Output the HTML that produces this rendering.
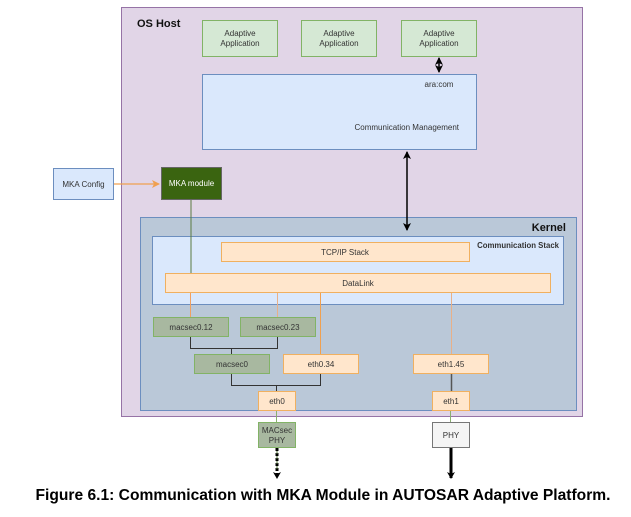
<!DOCTYPE html>
<html><head><meta charset="utf-8"><style>
html,body{margin:0;padding:0;background:#fff;}
svg{display:block;font-family:"Liberation Sans",Arial,sans-serif;}
</style></head><body>
<svg width="631" height="517" viewBox="0 0 631 517" xmlns="http://www.w3.org/2000/svg">
<defs>
<marker id="ah" markerWidth="8" markerHeight="8" refX="6" refY="4" orient="auto" markerUnits="userSpaceOnUse"><path d="M0,0 L7,4 L0,8 L2,4 z" fill="#000"/></marker>
<marker id="ahs" markerWidth="8" markerHeight="8" refX="7" refY="4" orient="auto-start-reverse" markerUnits="userSpaceOnUse"><path d="M0,0 L8,4 L0,8 L2,4 z" fill="#000"/></marker>
<marker id="ao" markerWidth="8" markerHeight="8" refX="7" refY="4" orient="auto" markerUnits="userSpaceOnUse"><path d="M0,0 L8,4 L0,8 L2,4 z" fill="#f0a050"/></marker>
</defs>
<rect x="121.5" y="7.5" width="461" height="409" fill="#e1d5e7" stroke="#9673a6"/>
<text x="137" y="27" font-size="11" font-weight="bold" fill="#111">OS Host</text>
<g font-size="8" fill="#333" text-anchor="middle">
<rect x="202.5" y="20.5" width="75" height="36" fill="#d5e8d4" stroke="#82b366"/>
<text x="240" y="36">Adaptive</text><text x="240" y="46">Application</text>
<rect x="301.5" y="20.5" width="75" height="36" fill="#d5e8d4" stroke="#82b366"/>
<text x="339" y="36">Adaptive</text><text x="339" y="46">Application</text>
<rect x="401.5" y="20.5" width="75" height="36" fill="#d5e8d4" stroke="#82b366"/>
<text x="439" y="36">Adaptive</text><text x="439" y="46">Application</text>
</g>
<rect x="202.5" y="74.5" width="274" height="75" fill="#dae8fc" stroke="#6c8ebf"/>
<text x="439" y="87" font-size="8" fill="#333" text-anchor="middle">ara:com</text>
<text x="459" y="130" font-size="8" fill="#333" text-anchor="end">Communication Management</text>
<line x1="439" y1="58" x2="439" y2="72" stroke="#000" stroke-width="1.5" marker-start="url(#ahs)" marker-end="url(#ahs)"/>
<rect x="53.5" y="168.5" width="60" height="31" fill="#dae8fc" stroke="#6c8ebf"/>
<text x="83.5" y="187" font-size="8" fill="#333" text-anchor="middle">MKA Config</text>
<line x1="114" y1="184" x2="159" y2="184" stroke="#f0a050" stroke-width="1.2" marker-end="url(#ao)"/>
<rect x="161.5" y="167.5" width="60" height="32" fill="#3a6410" stroke="#666"/>
<text x="191.5" y="186" font-size="8" fill="#fff" text-anchor="middle">MKA module</text>
<rect x="140.5" y="217.5" width="436" height="193" fill="#bac8d8" stroke="#6c8ebf"/>
<text x="566" y="231" font-size="11" font-weight="bold" fill="#111" text-anchor="end">Kernel</text>
<rect x="152.5" y="236.5" width="411" height="68" fill="#dae8fc" stroke="#6c8ebf"/>
<text x="559" y="248" font-size="7.8" font-weight="bold" fill="#333" text-anchor="end">Communication Stack</text>
<line x1="407" y1="152" x2="407" y2="230" stroke="#000" stroke-width="1.5" marker-start="url(#ahs)" marker-end="url(#ahs)"/>
<line x1="191" y1="200" x2="191" y2="273" stroke="#5a7a40" stroke-width="1"/>
<g font-size="8" fill="#333" text-anchor="middle">
<rect x="221.5" y="242.5" width="248" height="19" fill="#ffe6cc" stroke="#f0b060"/>
<text x="345" y="255">TCP/IP Stack</text>
<rect x="165.5" y="273.5" width="385" height="19" fill="#ffe6cc" stroke="#f0b060"/>
<text x="358" y="286">DataLink</text>
</g>
<g fill="none" stroke-width="1">
<line x1="190.5" y1="293" x2="190.5" y2="317" stroke="#f0a060"/>
<line x1="277.5" y1="293" x2="277.5" y2="317" stroke="#e8b088"/>
<line x1="320.5" y1="293" x2="320.5" y2="354" stroke="#f0a050"/>
<line x1="451.5" y1="293" x2="451.5" y2="354" stroke="#e8b088"/>
<path d="M190.5 336 V348.5 H277.5 V336 M231.5 348.5 V354" stroke="#333"/>
<path d="M231.5 373 V385.5 H320.5 V373 M276.5 385.5 V391" stroke="#333"/>
<line x1="451.5" y1="373" x2="451.5" y2="391" stroke="#555" stroke-width="1.5"/>
<line x1="276.5" y1="410" x2="276.5" y2="422" stroke="#8ab070"/>
<line x1="450.5" y1="410" x2="450.5" y2="422" stroke="#8ab070"/>
</g>
<g font-size="8" fill="#333" text-anchor="middle">
<rect x="153.5" y="317.5" width="75" height="19" fill="#a8b8a0" stroke="#82b366"/>
<text x="191" y="330">macsec0.12</text>
<rect x="240.5" y="317.5" width="75" height="19" fill="#a8b8a0" stroke="#82b366"/>
<text x="278" y="330">macsec0.23</text>
<rect x="194.5" y="354.5" width="75" height="19" fill="#a8b8a0" stroke="#82b366"/>
<text x="232" y="367">macsec0</text>
<rect x="283.5" y="354.5" width="75" height="19" fill="#ffe6cc" stroke="#f0b060"/>
<text x="321" y="367">eth0.34</text>
<rect x="413.5" y="354.5" width="75" height="19" fill="#ffe6cc" stroke="#f0b060"/>
<text x="451" y="367">eth1.45</text>
<rect x="258.5" y="391.5" width="37" height="19" fill="#ffe6cc" stroke="#f0b060"/>
<text x="277" y="404">eth0</text>
<rect x="432.5" y="391.5" width="37" height="19" fill="#ffe6cc" stroke="#f0b060"/>
<text x="451" y="404">eth1</text>
<rect x="258.5" y="422.5" width="37" height="25" fill="#a8b8a0" stroke="#82b366"/>
<text x="277" y="433">MACsec</text><text x="277" y="443">PHY</text>
<rect x="432.5" y="422.5" width="37" height="25" fill="#f5f5f5" stroke="#777"/>
<text x="451" y="438">PHY</text>
</g>
<line x1="277" y1="448" x2="277" y2="478" stroke="#000" stroke-width="3" stroke-dasharray="3,2" marker-end="url(#ah)"/>
<line x1="277" y1="449" x2="277" y2="470" stroke="#5a7a40" stroke-width="1" stroke-dasharray="3,2" stroke-dashoffset="3"/>
<line x1="451" y1="448" x2="451" y2="478" stroke="#000" stroke-width="3" marker-end="url(#ah)"/>
<text x="323" y="500" font-size="15.6" font-weight="bold" fill="#000" text-anchor="middle">Figure 6.1: Communication with MKA Module in AUTOSAR Adaptive Platform.</text>
</svg>
</body></html>
